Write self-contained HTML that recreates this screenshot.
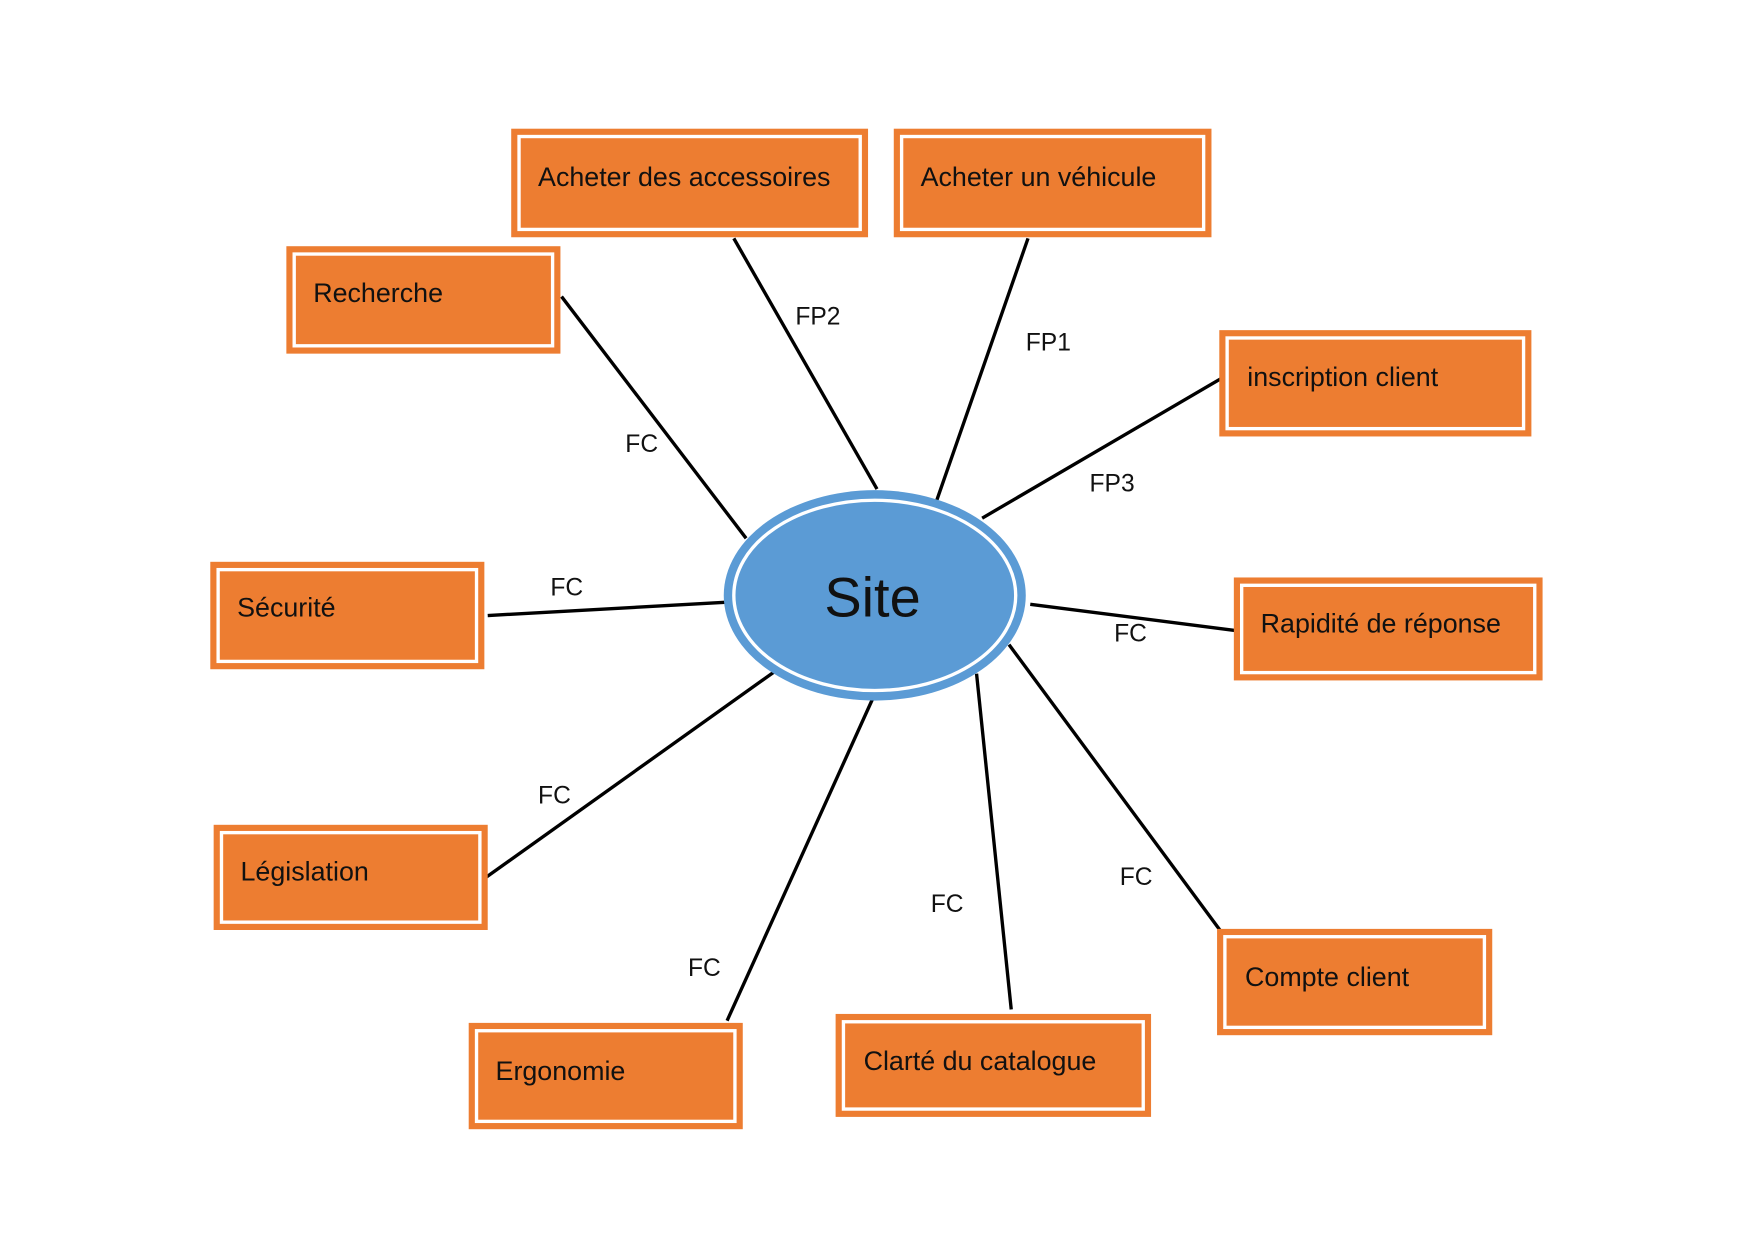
<!DOCTYPE html>
<html><head><meta charset="utf-8"><style>
html,body{margin:0;padding:0;background:#fff;}
svg{display:block;}
text{font-family:"Liberation Sans",sans-serif;fill:#111;}
</style></head><body>
<svg width="1754" height="1240" viewBox="0 0 1568 1108" preserveAspectRatio="none" xmlns="http://www.w3.org/2000/svg">
<g stroke="#000" stroke-width="3" fill="none">
<line x1="656" y1="213" x2="784" y2="437"/>
<line x1="919" y1="213" x2="835" y2="454"/>
<line x1="1092" y1="338" x2="878" y2="463"/>
<line x1="502" y1="265" x2="667" y2="481"/>
<line x1="436" y1="550" x2="652" y2="538"/>
<line x1="921" y1="540" x2="1109" y2="564"/>
<line x1="694" y1="599" x2="433" y2="785"/>
<line x1="783" y1="618" x2="650" y2="912"/>
<line x1="873" y1="602" x2="904" y2="902"/>
<line x1="902" y1="576" x2="1092" y2="833"/>
</g>
<ellipse cx="782" cy="532" rx="135" ry="94" fill="#5b9bd5"/>
<ellipse cx="782" cy="532" rx="126" ry="85" fill="none" stroke="#fff" stroke-width="3"/>
<text x="780" y="551" font-size="50" text-anchor="middle">Site</text>
<g font-size="22">
<text x="711" y="290">FP2</text>
<text x="917" y="313">FP1</text>
<text x="974" y="439">FP3</text>
<text x="559" y="404">FC</text>
<text x="492" y="532">FC</text>
<text x="996" y="573">FC</text>
<text x="481" y="718">FC</text>
<text x="615" y="872">FC</text>
<text x="832" y="815">FC</text>
<text x="1001" y="791">FC</text>
</g>
<g font-size="24">
<g><rect x="457" y="115" width="319" height="97" fill="#ed7d31"/><rect x="464" y="122" width="305" height="83" fill="none" stroke="#fff" stroke-width="3"/><text x="481" y="166">Acheter des accessoires</text></g>
<g><rect x="799" y="115" width="284" height="97" fill="#ed7d31"/><rect x="806" y="122" width="270" height="83" fill="none" stroke="#fff" stroke-width="3"/><text x="823" y="166">Acheter un véhicule</text></g>
<g><rect x="256" y="220" width="245" height="96" fill="#ed7d31"/><rect x="263" y="227" width="231" height="82" fill="none" stroke="#fff" stroke-width="3"/><text x="280" y="270">Recherche</text></g>
<g><rect x="1090" y="295" width="279" height="95" fill="#ed7d31"/><rect x="1097" y="302" width="265" height="81" fill="none" stroke="#fff" stroke-width="3"/><text x="1115" y="345">inscription client</text></g>
<g><rect x="188" y="502" width="245" height="96" fill="#ed7d31"/><rect x="195" y="509" width="231" height="82" fill="none" stroke="#fff" stroke-width="3"/><text x="212" y="551">Sécurité</text></g>
<g><rect x="1103" y="516" width="276" height="92" fill="#ed7d31"/><rect x="1110" y="523" width="262" height="78" fill="none" stroke="#fff" stroke-width="3"/><text x="1127" y="565">Rapidité de réponse</text></g>
<g><rect x="191" y="737" width="245" height="94" fill="#ed7d31"/><rect x="198" y="744" width="231" height="80" fill="none" stroke="#fff" stroke-width="3"/><text x="215" y="787">Législation</text></g>
<g><rect x="1088" y="830" width="246" height="95" fill="#ed7d31"/><rect x="1095" y="837" width="232" height="81" fill="none" stroke="#fff" stroke-width="3"/><text x="1113" y="881">Compte client</text></g>
<g><rect x="419" y="914" width="245" height="95" fill="#ed7d31"/><rect x="426" y="921" width="231" height="81" fill="none" stroke="#fff" stroke-width="3"/><text x="443" y="965">Ergonomie</text></g>
<g><rect x="747" y="906" width="282" height="92" fill="#ed7d31"/><rect x="754" y="913" width="268" height="78" fill="none" stroke="#fff" stroke-width="3"/><text x="772" y="956">Clarté du catalogue</text></g>
</g>
</svg>
</body></html>
